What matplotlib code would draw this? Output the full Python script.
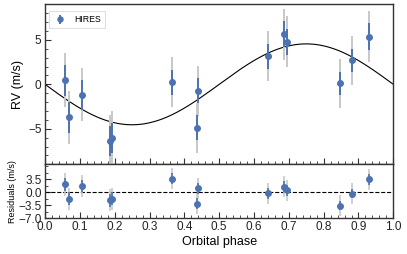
import numpy as np
import matplotlib
matplotlib.use("Agg")
import matplotlib.pyplot as plt
from matplotlib.ticker import MultipleLocator

plt.rcParams['font.family'] = ['Liberation Sans', 'DejaVu Sans']

# Data (phase-folded HIRES RVs)
phase = [0.0566, 0.070, 0.106, 0.186, 0.191, 0.365, 0.436, 0.439,
         0.639, 0.687, 0.695, 0.847, 0.881, 0.930]
rv = [0.48, -3.71, -1.17, -6.4, -6.0, 0.22, -4.87, -0.72,
      3.15, 5.62, 4.79, 0.11, 2.70, 5.35]
rv_err = [1.75, 1.75, 1.7, 1.7, 1.7, 1.4, 1.4, 1.4,
          1.4, 1.45, 1.45, 1.3, 1.3, 1.5]
jitter = 2.45
K = 4.55  # semi-amplitude of circular model

phase = np.array(phase)
rv = np.array(rv)
rv_err = np.array(rv_err)
tot_err = np.sqrt(rv_err**2 + jitter**2)

model_phase = np.linspace(0, 1, 400)
model = -K * np.sin(2 * np.pi * model_phase)
resid = rv - (-K * np.sin(2 * np.pi * phase))

blue = '#4c72b0'
gray = '#c8c8c8'
frame = '#333333'

fig = plt.figure(figsize=(4.07, 2.54), dpi=100)
ax1 = fig.add_axes([0.1106, 0.353, 0.9664 - 0.1106, 0.983 - 0.353])
ax2 = fig.add_axes([0.1106, 0.1417, 0.9664 - 0.1106, 0.353 - 0.1417])

for ax in (ax1, ax2):
    for s in ax.spines.values():
        s.set_color(frame)
        s.set_linewidth(1.0)
    ax.tick_params(which='both', direction='in', colors=frame, labelcolor='#222222',
                   labelsize=8.5, top=False, right=False)
    ax.tick_params(which='major', length=4, width=0.8, pad=2.5)
    ax.tick_params(which='minor', length=2, width=0.6)
    ax.xaxis.set_major_locator(MultipleLocator(0.1))
    ax.xaxis.set_minor_locator(MultipleLocator(0.02))
    ax.set_xlim(0, 1)

# Top panel
ax1.plot(model_phase, model, color='k', lw=0.8, zorder=2)
ax1.errorbar(phase, rv, yerr=tot_err, fmt='none', ecolor=gray, elinewidth=1.4, capsize=0, zorder=3)
ax1.errorbar(phase, rv, yerr=rv_err, fmt='o', color=blue, ms=4, elinewidth=1.4,
             capsize=0, zorder=4, label='HIRES')
ax1.set_ylim(-9, 9)
ax1.yaxis.set_major_locator(MultipleLocator(5))
ax1.yaxis.set_minor_locator(MultipleLocator(1))
ax1.set_ylabel('RV (m/s)', fontsize=9, labelpad=3)
ax1.tick_params(labelbottom=False)
leg = ax1.legend(loc='upper left', fontsize=6.3, frameon=True, fancybox=False,
                 handlelength=1.6, borderpad=0.45, markerscale=0.9,
                 bbox_to_anchor=(0.0, 0.98), borderaxespad=0.45)
leg.get_frame().set_edgecolor('#d0d0d0')
leg.get_frame().set_linewidth(0.6)

# Residual panel
ax2.axhline(0, color='k', ls='--', lw=0.8, zorder=2)
ax2.errorbar(phase, resid, yerr=tot_err, fmt='none', ecolor=gray, elinewidth=1.2, capsize=0, zorder=3)
ax2.errorbar(phase, resid, yerr=rv_err, fmt='o', color=blue, ms=4, elinewidth=1.2,
             capsize=0, zorder=4)
ax2.set_ylim(-7.0, 7.5)
ax2.set_yticks([-7.0, -3.5, 0.0, 3.5])
ax2.yaxis.set_minor_locator(MultipleLocator(1.75))
ax2.set_ylabel('Residuals (m/s)', fontsize=6.5, labelpad=1)
ax2.set_xlabel('Orbital phase', fontsize=9, labelpad=2)

fig.savefig('out.png', dpi=100)
